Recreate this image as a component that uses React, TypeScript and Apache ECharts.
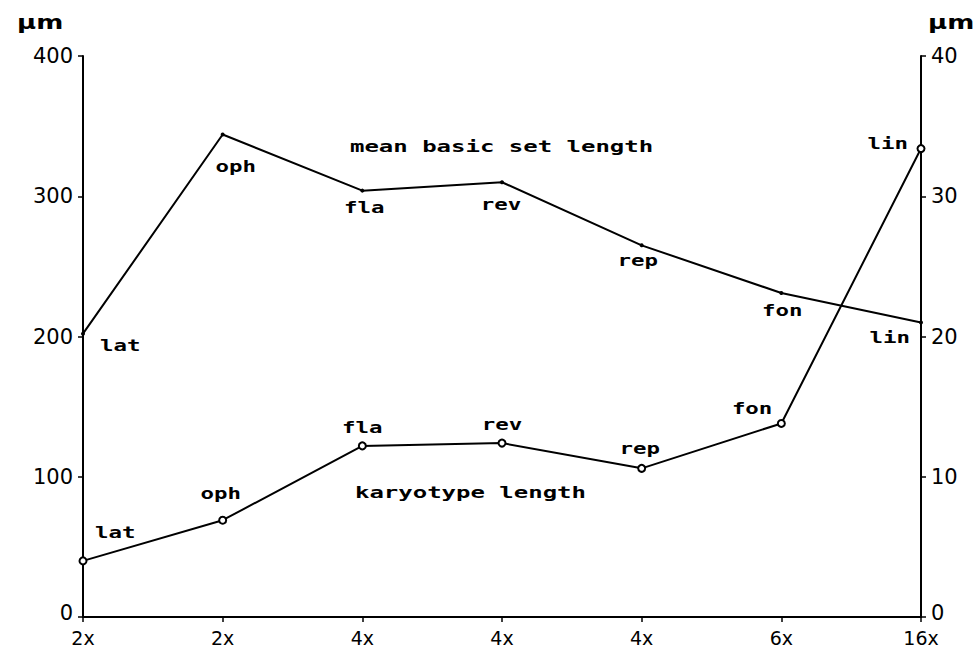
import React, { useEffect, useRef } from "react";
import * as echarts from "echarts";

// ---- data ----
const categories = ["2x", "2x", "4x", "4x", "4x", "6x", "16x"];
const taxa = ["lat", "oph", "fla", "rev", "rep", "fon", "lin"];
const karyotypeLength = [40, 69, 122, 124, 106, 138, 334]; // µm, left axis
const meanBasicSetLength = [20.2, 34.4, 30.4, 31.0, 26.5, 23.1, 21.0]; // µm, right axis
const unitLabel = "µm";
const karyotypeTitle = "karyotype length";
const meanTitle = "mean basic set length";

// ---- label placement (offsets from the data point, px) ----
const karyoOffsets = [
  { dx: 12, dy: -28, align: "left" },
  { dx: -2, dy: -27, align: "center" },
  { dx: 0, dy: -18, align: "center" },
  { dx: 0, dy: -18, align: "center" },
  { dx: -2, dy: -20, align: "center" },
  { dx: -9, dy: -15, align: "right" },
  { dx: -13, dy: -5, align: "right" },
];
const meanOffsets = [
  { dx: 17, dy: 12, align: "left" },
  { dx: 13, dy: 32, align: "center" },
  { dx: 2, dy: 17, align: "center" },
  { dx: -1, dy: 22, align: "center" },
  { dx: -4, dy: 15, align: "center" },
  { dx: 1, dy: 18, align: "center" },
  { dx: -11, dy: 15, align: "right" },
];

const FONT_MONO = "'DejaVu Sans Mono', monospace";
const FONT_SANS = "'DejaVu Sans', sans-serif";

export default function App() {
  const ref = useRef<HTMLDivElement>(null);

  useEffect(() => {
    document.body.style.margin = "0";
    const chart = echarts.init(ref.current!, null, { renderer: "svg" });
    const zeroRich = {
      z: { color: "#000", fontSize: 21, fontFamily: FONT_SANS, padding: [0, 0, 8, 0] },
    };
    const yFormatter = (v: number) => (v === 0 ? "{z|0}" : String(v));
    const axisCommon = {
      axisLine: { show: true, lineStyle: { color: "#000", width: 2 } },
      axisTick: { show: true, length: 5, lineStyle: { color: "#000", width: 1.5 } },
      splitLine: { show: false },
      axisLabel: { color: "#000", fontSize: 21, fontFamily: FONT_SANS },
    };
    chart.setOption({
      animation: false,
      backgroundColor: "#fff",
      grid: { left: 83, right: 57, top: 56, bottom: 32, containLabel: false },
      xAxis: {
        type: "category",
        data: categories,
        boundaryGap: false,
        ...axisCommon,
        axisLabel: { ...axisCommon.axisLabel, fontSize: 19, lineHeight: 19, margin: 11 },
      },
      yAxis: [
        {
          type: "value",
          min: 0,
          max: 400,
          interval: 100,
          position: "left",
          ...axisCommon,
          axisLabel: { ...axisCommon.axisLabel, margin: 10, formatter: yFormatter, rich: zeroRich },
        },
        {
          type: "value",
          min: 0,
          max: 40,
          interval: 10,
          position: "right",
          ...axisCommon,
          axisLabel: { ...axisCommon.axisLabel, margin: 10, formatter: yFormatter, rich: zeroRich },
        },
      ],
      series: [
        {
          name: karyotypeTitle,
          type: "line",
          yAxisIndex: 0,
          data: karyotypeLength,
          symbol: "emptyCircle",
          symbolSize: 7,
          lineStyle: { color: "#000", width: 2 },
          itemStyle: { color: "#000", borderColor: "#000", borderWidth: 2 },
        },
        {
          name: meanTitle,
          type: "line",
          yAxisIndex: 1,
          data: meanBasicSetLength,
          symbol: "circle",
          symbolSize: 4,
          lineStyle: { color: "#000", width: 2 },
          itemStyle: { color: "#000" },
        },
      ],
    });

    const labelStyle = (text: string, align: string) => ({
      text,
      fill: "#000",
      font: `bold 16px ${FONT_MONO}`,
      align,
      verticalAlign: "middle",
    });

    const graphics: any[] = [];
    taxa.forEach((t, i) => {
      const p = chart.convertToPixel({ seriesIndex: 0 }, [i, karyotypeLength[i]]) as number[];
      const o = karyoOffsets[i];
      graphics.push({
        type: "text",
        x: p[0] + o.dx,
        y: p[1] + o.dy,
        scaleX: 1.4,
        style: labelStyle(t, o.align),
      });
      const q = chart.convertToPixel({ seriesIndex: 1 }, [i, meanBasicSetLength[i]]) as number[];
      const m = meanOffsets[i];
      graphics.push({
        type: "text",
        x: q[0] + m.dx,
        y: q[1] + m.dy,
        scaleX: 1.4,
        style: labelStyle(t, m.align),
      });
    });
    graphics.push(
      { type: "text", x: 350, y: 147, scaleX: 1.5, style: labelStyle(meanTitle, "left") },
      { type: "text", x: 355, y: 493, scaleX: 1.5, style: labelStyle(karyotypeTitle, "left") },
      {
        type: "text",
        x: 17,
        y: 22,
        scaleX: 1.3,
        style: { text: unitLabel, fill: "#000", font: `bold 20px ${FONT_SANS}`, verticalAlign: "middle" },
      },
      {
        type: "text",
        x: 928,
        y: 22,
        scaleX: 1.3,
        style: { text: unitLabel, fill: "#000", font: `bold 20px ${FONT_SANS}`, verticalAlign: "middle" },
      }
    );
    chart.setOption({ graphic: graphics });

    return () => chart.dispose();
  }, []);

  return <div ref={ref} style={{ width: 978, height: 649 }} />;
}
